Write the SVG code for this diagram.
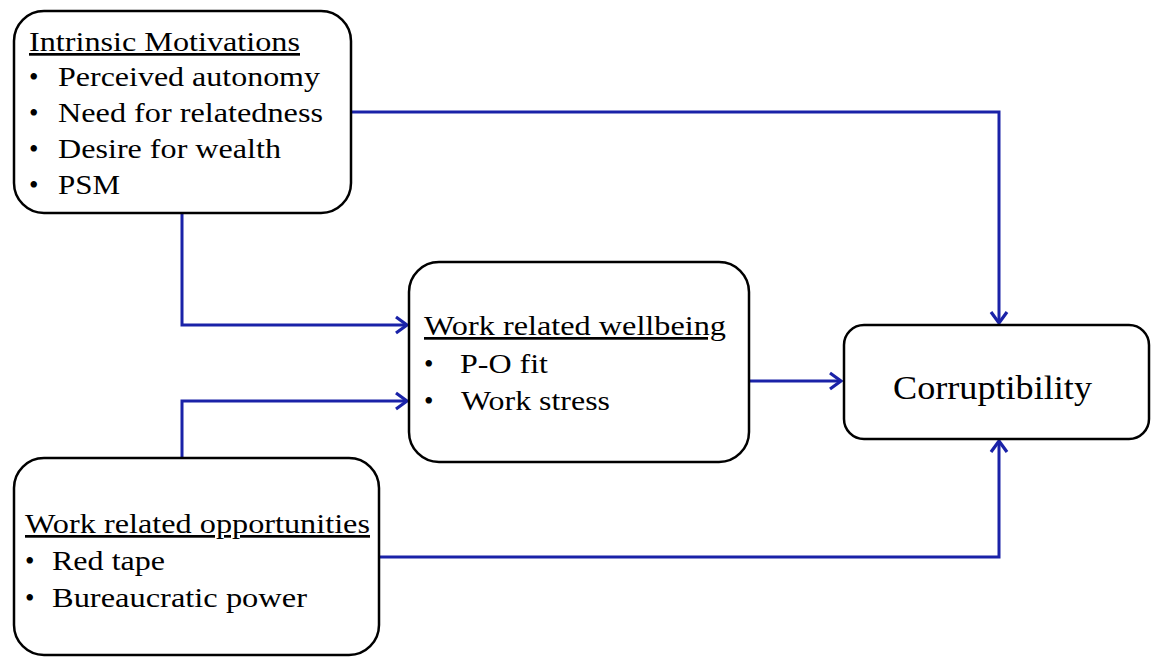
<svg xmlns="http://www.w3.org/2000/svg" width="1151" height="658" viewBox="0 0 1151 658">
<style>
.box{fill:#fff;stroke:#000;stroke-width:2.5}
.t{font-family:"Liberation Serif","Times New Roman",Tinos,serif;font-size:27px;fill:#000}
.u{text-decoration:underline}
.c{fill:none;stroke:#1a22a8;stroke-width:3}
</style>
<defs>
<marker id="ah" viewBox="0 0 16 20" refX="14" refY="10" markerWidth="16" markerHeight="20" markerUnits="userSpaceOnUse" orient="auto">
<path d="M3,2 L14,10 L3,18" fill="none" stroke="#1a22a8" stroke-width="3.2" stroke-linejoin="miter"/>
</marker>
</defs>
<rect width="1151" height="658" fill="#fff"/>
<g id="connectors">
<path class="c" d="M351,112 H999 V323" marker-end="url(#ah)"/>
<path class="c" d="M182,213 V325 H407" marker-end="url(#ah)"/>
<path class="c" d="M182,458 V401 H407" marker-end="url(#ah)"/>
<path class="c" d="M749,381 H841" marker-end="url(#ah)"/>
<path class="c" d="M379,557 H999 V441" marker-end="url(#ah)"/>
</g>
<g id="intrinsic">
<rect class="box" x="14" y="11" width="337" height="202" rx="30"/>
<text class="t u" x="29" y="51" textLength="271" lengthAdjust="spacingAndGlyphs">Intrinsic Motivations</text>
<text class="t" x="29" y="86">•</text><text class="t" x="58" y="86" textLength="262" lengthAdjust="spacingAndGlyphs">Perceived autonomy</text>
<text class="t" x="29" y="122">•</text><text class="t" x="58" y="122" textLength="265" lengthAdjust="spacingAndGlyphs">Need for relatedness</text>
<text class="t" x="29" y="158">•</text><text class="t" x="58" y="158" textLength="223" lengthAdjust="spacingAndGlyphs">Desire for wealth</text>
<text class="t" x="29" y="194">•</text><text class="t" x="58" y="194" textLength="62" lengthAdjust="spacingAndGlyphs">PSM</text>
</g>
<g id="wellbeing">
<rect class="box" x="409" y="262" width="340" height="200" rx="30"/>
<text class="t u" x="424" y="335" textLength="302" lengthAdjust="spacingAndGlyphs">Work related wellbeing</text>
<text class="t" x="424" y="373">•</text><text class="t" x="460" y="373" textLength="88" lengthAdjust="spacingAndGlyphs">P-O fit</text>
<text class="t" x="424" y="410">•</text><text class="t" x="461" y="410" textLength="149" lengthAdjust="spacingAndGlyphs">Work stress</text>
</g>
<g id="opportunities">
<rect class="box" x="14" y="458" width="365" height="197" rx="30"/>
<text class="t u" x="25" y="533" textLength="345" lengthAdjust="spacingAndGlyphs">Work related opportunities</text>
<text class="t" x="25" y="570">•</text><text class="t" x="52" y="570" textLength="113" lengthAdjust="spacingAndGlyphs">Red tape</text>
<text class="t" x="25" y="607">•</text><text class="t" x="52" y="607" textLength="255" lengthAdjust="spacingAndGlyphs">Bureaucratic power</text>
</g>
<g id="corruptibility">
<rect class="box" x="844" y="325" width="305" height="114" rx="20"/>
<text class="t" x="893" y="399" style="font-size:34px" textLength="199" lengthAdjust="spacingAndGlyphs">Corruptibility</text>
</g>
</svg>
